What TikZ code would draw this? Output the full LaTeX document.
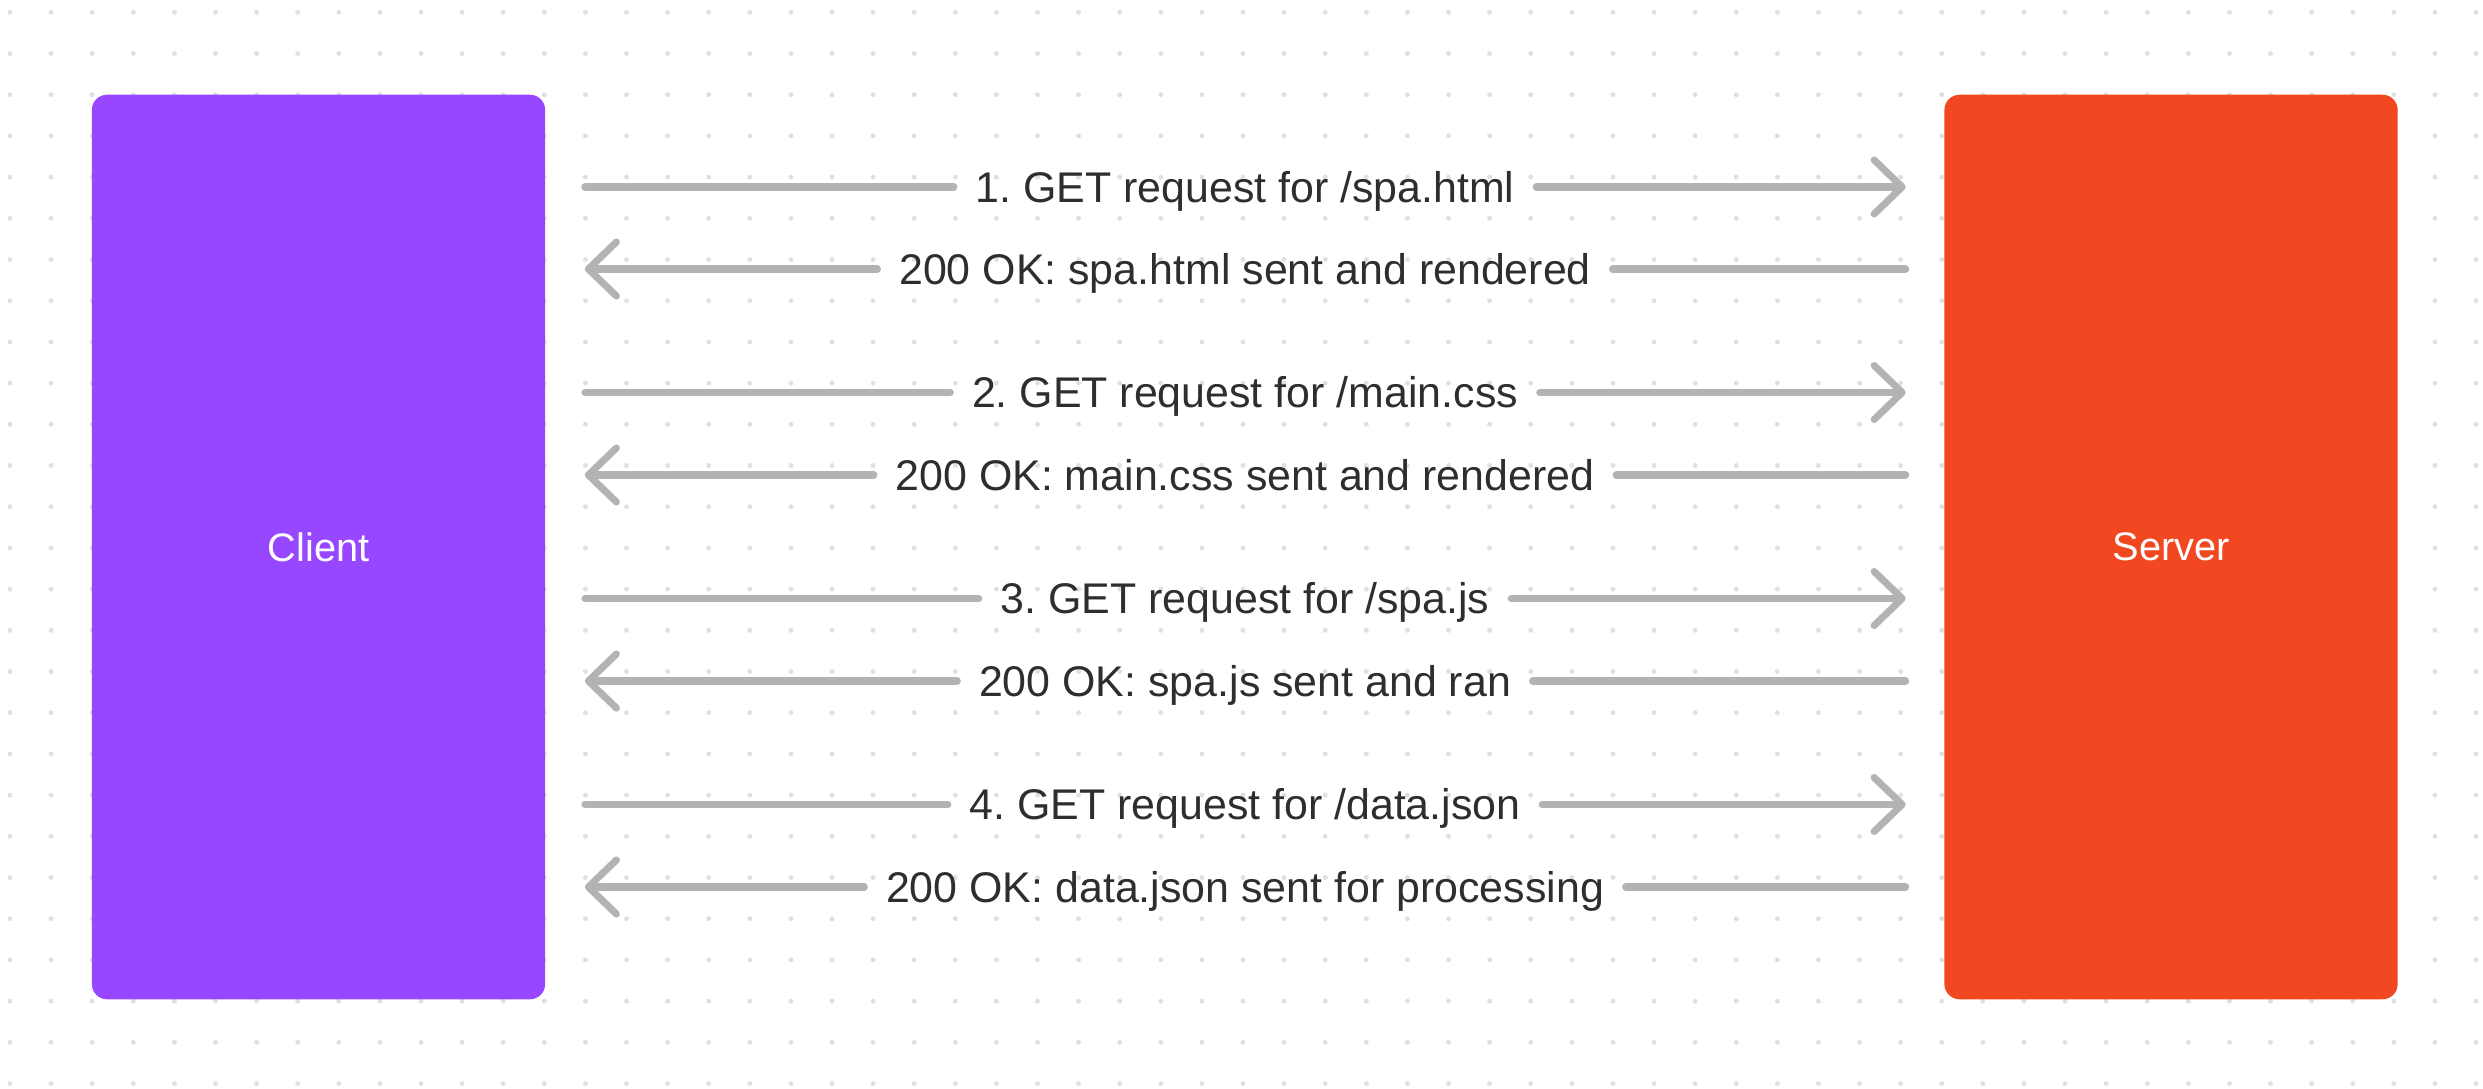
\documentclass[tikz,border=0pt]{standalone}
\usepackage{fontspec}
\setmainfont{Liberation Sans}
\usetikzlibrary{arrows.meta}
\definecolor{clientc}{HTML}{9747FF}
\definecolor{serverc}{HTML}{F24822}
\definecolor{linec}{HTML}{B3B3B3}
\definecolor{textc}{HTML}{2E2E2E}
\definecolor{dotc}{HTML}{E0E0E0}
\frenchspacing

\begin{document}
\begin{tikzpicture}[x=0.01cm,y=-0.01cm,>={Straight Barb[length=2.8mm,width=5.4mm,round]},
  actor/.style={rounded corners=4.3pt,minimum width=4.53cm,minimum height=9.04cm,text=white,font=\fontsize{11.3}{13}\selectfont,inner sep=0pt},
  msg/.style={font=\fontsize{12.2}{14}\selectfont,text=textc,inner sep=0pt,text height=11pt,text depth=2.4pt},
  seg/.style={draw=linec,line width=2pt,line cap=round},
  leftseg/.style={seg,shorten <=0.39cm,shorten >=0.21cm},
  rightseg/.style={seg,shorten <=0.21cm,shorten >=0.38cm}]
\useasboundingbox (0,0) rectangle (2483,1088);
\fill[white] (0,0) rectangle (2483,1088);
% dotted canvas
\foreach \i in {0,...,60}
  \foreach \j in {0,...,26}
    \fill[dotc] ({10+41.1*\i},{12.3+41.2*\j}) circle[radius=0.7pt];
% actors
\node[actor,fill=clientc] (client) at (318.5,547) {Client};
\node[actor,fill=serverc] (server) at (2171,547) {Server};
% messages
\node[msg] (q1) at (1245,187) {1. GET request for /spa.html};
\node[msg] (r1) at (1245,269) {200 OK: spa.html sent and rendered};
\node[msg] (q2) at (1245,392.5) {2. GET request for /main.css};
\node[msg] (r2) at (1245,475) {200 OK: main.css sent and rendered};
\node[msg] (q3) at (1245,598.5) {3. GET request for /spa.js};
\node[msg] (r3) at (1245,681) {200 OK: spa.js sent and ran};
\node[msg] (q4) at (1245,804.5) {4. GET request for /data.json};
\node[msg] (r4) at (1245,887) {200 OK: data.json sent for processing};
\draw[leftseg] (client.east |- q1) -- (q1.west);
\draw[rightseg,->] (q1.east) -- (server.west |- q1);
\draw[leftseg,<-] (client.east |- r1) -- (r1.west);
\draw[rightseg] (r1.east) -- (server.west |- r1);
\draw[leftseg] (client.east |- q2) -- (q2.west);
\draw[rightseg,->] (q2.east) -- (server.west |- q2);
\draw[leftseg,<-] (client.east |- r2) -- (r2.west);
\draw[rightseg] (r2.east) -- (server.west |- r2);
\draw[leftseg] (client.east |- q3) -- (q3.west);
\draw[rightseg,->] (q3.east) -- (server.west |- q3);
\draw[leftseg,<-] (client.east |- r3) -- (r3.west);
\draw[rightseg] (r3.east) -- (server.west |- r3);
\draw[leftseg] (client.east |- q4) -- (q4.west);
\draw[rightseg,->] (q4.east) -- (server.west |- q4);
\draw[leftseg,<-] (client.east |- r4) -- (r4.west);
\draw[rightseg] (r4.east) -- (server.west |- r4);
\end{tikzpicture}
\end{document}
